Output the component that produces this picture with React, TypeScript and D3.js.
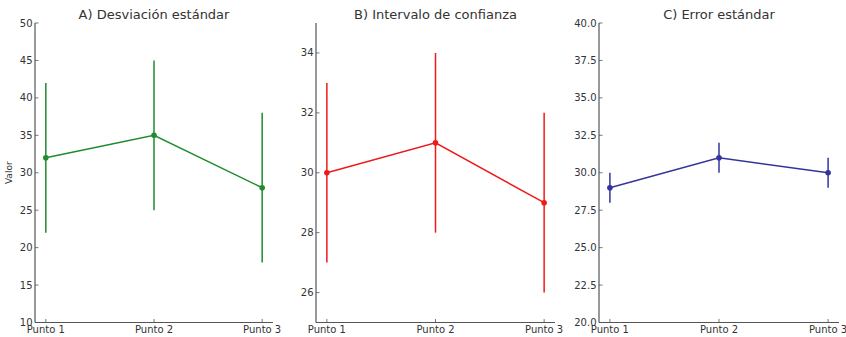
import React from "react";
import * as d3 from "d3";

const categories = ["Punto 1", "Punto 2", "Punto 3"];

const titles = ["A) Desviación estándar", "B) Intervalo de confianza", "C) Error estándar"];
const meansA = [32, 35, 28];
const errA = [10, 10, 10];
const meansB = [30, 31, 29];
const errB = [3, 3, 3];
const meansC = [29, 31, 30];
const errC = [1, 1, 1];
const ticksA = [10, 15, 20, 25, 30, 35, 40, 45, 50];
const ticksB = [26, 28, 30, 32, 34];
const ticksC = [20, 22.5, 25, 27.5, 30, 32.5, 35, 37.5, 40];
const domainA: [number, number] = [10, 50];
const domainB: [number, number] = [25, 35];
const domainC: [number, number] = [20, 40];

const panels = [
  { title: titles[0], means: meansA, errs: errA, ticks: ticksA, domain: domainA, color: "#1f8c2e", fmt: (v: number) => d3.format("d")(v), x0: 35, x1: 273, ylabel: "Valor" },
  { title: titles[1], means: meansB, errs: errB, ticks: ticksB, domain: domainB, color: "#ee1a1a", fmt: (v: number) => d3.format("d")(v), x0: 316, x1: 555, ylabel: "" },
  { title: titles[2], means: meansC, errs: errC, ticks: ticksC, domain: domainC, color: "#34349c", fmt: (v: number) => d3.format(".1f")(v), x0: 599, x1: 839, ylabel: "" },
];

const TOP = 23;
const BOTTOM = 322.5;
const TEXT = "#333333";
const AXIS = "#555555";
const FONT = "DejaVu Sans, sans-serif";

function Panel({ p }: { p: (typeof panels)[number] }) {
  const x = d3.scaleLinear().domain([-0.1, 2.1]).range([p.x0, p.x1]);
  const y = d3.scaleLinear().domain(p.domain).range([BOTTOM, TOP]);
  const line = d3
    .line<number>()
    .x((_, i) => x(i))
    .y((d) => y(d));
  return (
    <g>
      <text x={(p.x0 + p.x1) / 2} y={19} textAnchor="middle" fontSize={13} fill={TEXT} fontFamily={FONT}>
        {p.title}
      </text>
      {p.ticks.map((t) => (
        <g key={t}>
          <line x1={p.x0} x2={p.x0 + 3.5} y1={y(t)} y2={y(t)} stroke={AXIS} strokeWidth={0.8} />
          <text x={p.x0 - 2.5} y={y(t)} dy="0.35em" textAnchor="end" fontSize={10} fill={TEXT} fontFamily={FONT}>
            {p.fmt(t)}
          </text>
        </g>
      ))}
      {categories.map((c, i) => (
        <g key={c}>
          <line x1={x(i)} x2={x(i)} y1={BOTTOM} y2={BOTTOM - 3.5} stroke={AXIS} strokeWidth={0.8} />
          <text x={x(i)} y={333} textAnchor="middle" fontSize={10} fill={TEXT} fontFamily={FONT}>
            {c}
          </text>
        </g>
      ))}
      <line x1={p.x0} x2={p.x0} y1={TOP} y2={BOTTOM} stroke={AXIS} strokeWidth={1.2} />
      <line x1={p.x0} x2={p.x1} y1={BOTTOM} y2={BOTTOM} stroke={AXIS} strokeWidth={1.2} />
      {p.ylabel && (
        <text transform={`translate(12,${(TOP + BOTTOM) / 2}) rotate(-90)`} textAnchor="middle" fontSize={9} fill={TEXT} fontFamily={FONT}>
          {p.ylabel}
        </text>
      )}
      {p.means.map((m, i) => (
        <line key={"e" + i} x1={x(i)} x2={x(i)} y1={y(m - p.errs[i])} y2={y(m + p.errs[i])} stroke={p.color} strokeWidth={1.5} />
      ))}
      <path d={line(p.means) || ""} fill="none" stroke={p.color} strokeWidth={1.5} />
      {p.means.map((m, i) => (
        <circle key={"c" + i} cx={x(i)} cy={y(m)} r={2.8} fill={p.color} />
      ))}
    </g>
  );
}

export default function App() {
  return (
    <svg width={846} height={337} style={{ position: "absolute", left: 0, top: 0, background: "#fff" }}>
      {panels.map((p, i) => (
        <Panel key={i} p={p} />
      ))}
    </svg>
  );
}
